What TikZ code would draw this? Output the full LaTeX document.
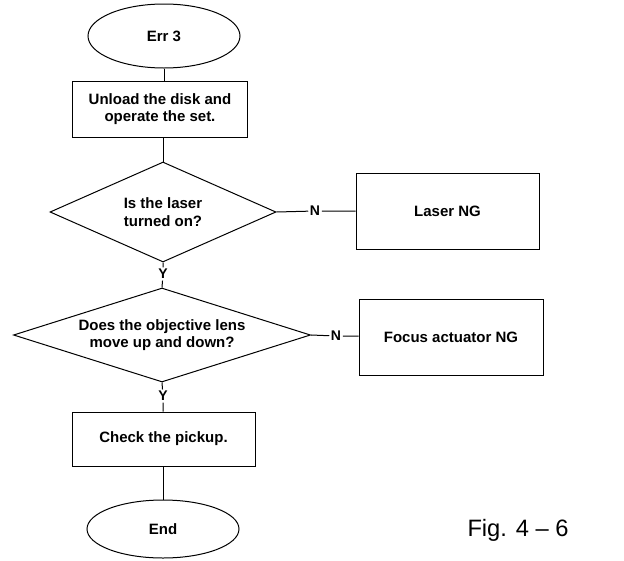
\documentclass[tikz,border=0pt]{standalone}
\usepackage{fontspec}
\setmainfont{Liberation Sans}
\usetikzlibrary{shapes.geometric}
\begin{document}
\begin{tikzpicture}[x=1pt,y=-1pt,
  every node/.style={font=\bfseries\fontsize{15}{17.5}\selectfont, align=center},
  line/.style={draw=black, line width=1pt},
  term/.style={ellipse, line, inner sep=0pt},
  procbox/.style={rectangle, line, inner sep=0pt},
  decis/.style={diamond, line, inner sep=0pt},
  lbl/.style={inner sep=1.5pt, font=\bfseries\fontsize{14}{16}\selectfont}]
\useasboundingbox (0,0) rectangle (624,560);
\node[term, minimum width=152pt, minimum height=64pt] (err) at (164,36) {Err 3};
\node[procbox, minimum width=175pt, minimum height=56pt] (unload) at (160,109) {Unload the disk and\\operate the set.};
\node[decis, aspect=2.26, minimum width=226pt, minimum height=100pt] (d1) at (163,212) {Is the laser\\turned on?};
\node[procbox, minimum width=183pt, minimum height=76pt] (laser) at (447.5,211) {Laser NG};
\node[lbl] (n1) at (315,211) {N};
\node[lbl] (y1) at (163,274) {Y};
\node[decis, aspect=3.16, minimum width=297pt, minimum height=94pt] (d2) at (162,335) {Does the objective lens\\move up and down?};
\node[procbox, minimum width=184pt, minimum height=76pt] (focus) at (451,337) {Focus actuator NG};
\node[lbl] (n2) at (336,336) {N};
\node[lbl] (y2) at (163,396) {Y};
\node[procbox, minimum width=183pt, minimum height=54pt] (check) at (163.5,439) {Check the pickup.};
\node[term, minimum width=152pt, minimum height=58pt] (endn) at (163,529) {End};
\node[font=\fontsize{23.7}{26}\selectfont] (fig) at (518,530) {Fig. 4 -- 6};
\draw[line] (err.south) -- (err.south |- unload.north);
\draw[line] (d1.north |- unload.south) -- (d1.north);
\draw[line] (d1.east) -- (n1) -- (laser.west);
\draw[line] (d1.south) -- (y1) -- (d2.north);
\draw[line] (d2.east) -- (n2) -- (n2 -| focus.west);
\draw[line] (d2.south) -- (y2) -- (y2 |- check.north);
\draw[line] (endn.north |- check.south) -- (endn.north);
\end{tikzpicture}
\end{document}
